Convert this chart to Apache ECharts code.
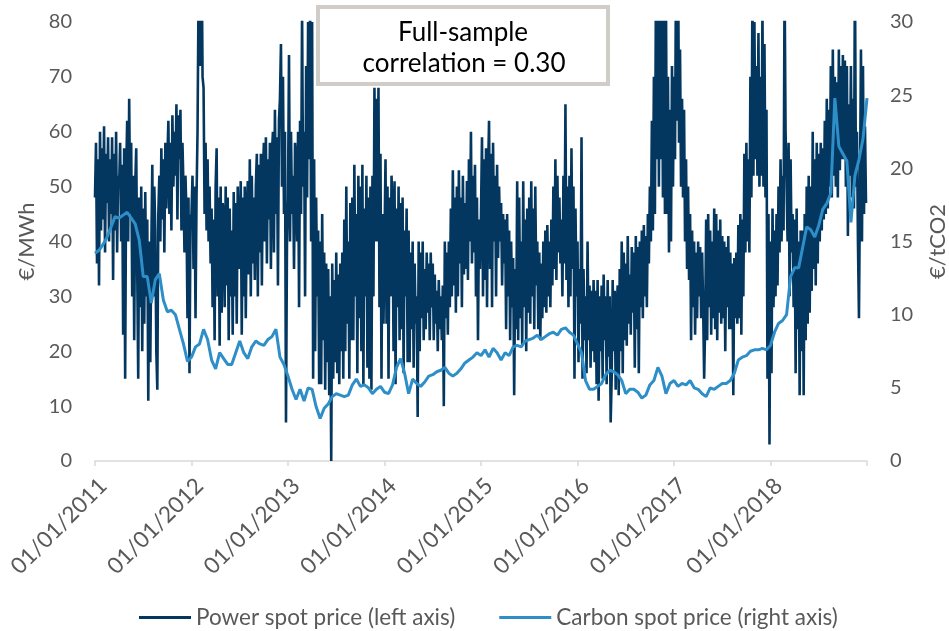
<!DOCTYPE html>
<html><head><meta charset="utf-8">
<script src="https://cdn.jsdelivr.net/npm/echarts@6/dist/echarts.min.js"></script>
<style>html,body{margin:0;padding:0;background:#fff}#chart{width:949px;height:631px}</style>
</head><body><div id="chart"></div>
<script>
// x tick labels (one per year boundary; 2019 boundary unlabeled)
const tickLabels = ['01/01/2011','01/01/2012','01/01/2013','01/01/2014','01/01/2015','01/01/2016','01/01/2017','01/01/2018'];
const seriesNames = ['Power spot price (left axis)', 'Carbon spot price (right axis)'];
const annotationLines = ['Full-sample', 'correlation = 0.30'];

// Power spot price, EUR/MWh: 8 readings per month (Jan..Dec)
const power2011 = [48,58,36,55,32,60,42,57, 44,61,38,56,47,59,40,55, 45,59,33,56,42,60,38,52, 50,58,40,54,23,57,15,52, 62,40,66,45,58,30,52,22, 50,57,35,15,48,28,50,20, 46,25,49,30,44,11,40,18, 38,54,30,50,42,20,13,45, 52,40,57,44,55,38,58,46, 55,62,45,58,42,63,50,60, 52,65,44,63,55,64,42,58, 50,38,52,45,26,48,16,44];
const power2012 = [45,52,35,50,26,48,60,85, 90,72,95,70,68,45,58,42, 55,40,50,36,46,28,44,22, 50,57,30,48,21,50,27,47, 45,28,50,32,48,22,46,30, 42,23,49,30,47,25,50,35, 40,51,23,48,30,50,26,45, 51,34,55,30,52,36,48,33, 50,56,30,54,38,56,32,52, 58,40,59,36,55,44,58,35, 56,60,38,64,45,59,32,62, 66,76,50,70,45,60,7,40];
const power2013 = [48,74,40,60,45,52,35,58, 55,40,60,28,62,45,82,50, 60,30,72,48,80,55,85,40, 80,15,55,20,48,30,42,14, 40,14,45,22,38,13,36,18, 35,12,30,0,36,15,33,18, 38,16,34,14,36,20,38,15, 44,20,50,25,40,15,47,22, 48,22,54,30,45,16,52,26, 50,20,54,14,46,30,52,17, 48,15,50,13,52,30,68,40, 66,40,68,28,56,15,45,25];
const power2014 = [40,55,25,50,15,48,30,52, 45,20,51,14,46,28,50,22, 47,24,48,16,42,30,46,18, 42,18,38,24,40,17,36,25, 30,8,40,20,38,26,40,22, 35,24,38,27,36,22,38,28, 36,22,34,25,31,20,33,24, 30,22,32,10,40,26,38,23, 40,28,46,30,53,32,48,27, 50,30,53,36,48,28,52,34, 47,35,51,33,55,40,60,36, 52,38,54,30,48,22,44,35];
const power2015 = [45,59,30,55,33,57,28,52, 62,35,56,28,58,40,52,30, 54,37,50,40,47,32,45,36, 44,24,45,30,42,22,40,28, 37,12,35,24,51,22,48,26, 40,21,51,28,44,20,46,27, 48,25,51,30,46,24,50,32, 40,24,38,22,36,26,40,28, 42,27,43,30,40,28,44,32, 50,35,55,33,52,38,48,36, 44,30,52,36,65,33,50,28, 52,30,57,35,50,15,46,30];
const power2016 = [40,18,35,25,59,15,35,22, 30,16,40,22,32,17,31,20, 33,18,31,14,33,11,30,20, 32,15,34,22,30,14,33,19, 30,7,15,33,20,31,13,28, 32,12,35,20,40,16,38,22, 36,21,41,25,34,23,39,27, 38,17,41,24,39,16,40,28, 42,26,43,30,41,28,45,36, 50,40,62,42,70,45,85,55, 88,50,95,55,82,48,90,45, 85,45,70,38,64,40,72,50];
const power2017 = [70,55,90,62,95,58,75,50, 66,48,64,40,55,35,50,33, 45,22,42,28,40,23,38,26, 40,30,39,26,38,28,15,25, 44,22,45,28,42,23,40,26, 46,24,45,22,42,27,44,25, 41,26,40,20,39,28,41,24, 38,24,36,12,37,26,38,25, 43,26,45,23,44,30,56,38, 58,40,55,38,70,48,85,52, 80,55,72,52,78,50,70,52, 82,50,76,48,64,15,45,3];
const power2018 = [40,16,46,28,42,30,45,32, 50,38,55,40,52,42,88,60, 60,40,58,30,55,38,45,28, 44,16,46,24,40,12,42,20, 42,12,45,22,50,25,52,27, 50,31,60,35,55,32,58,36, 56,40,58,42,57,44,62,45, 66,46,64,50,72,48,75,52, 70,50,69,48,75,53,72,55, 74,55,73,50,72,41,65,52, 72,48,66,46,90,50,60,40, 26,50,75,40,72,45,61,47];

// Carbon spot price, EUR/tCO2: readings on the 1st and 15th of each month
const carbon2011 = [14.2,14.4, 14.8,15.3, 16.0,16.7, 16.6,16.8, 17.0,16.6, 16.2,15.1, 12.6,12.6, 10.8,12.4, 12.8,11.0, 10.2,10.3, 10.0,9.0, 8.0,6.8];
const carbon2012 = [7.1,7.8, 8.0,9.0, 8.3,6.9, 6.3,7.4, 7.0,6.6, 6.6,7.4, 8.2,7.4, 7.0,7.8, 8.2,8.0, 7.9,8.3, 8.5,9.0, 7.1,6.6];
const carbon2013 = [5.8,4.9, 4.2,4.9, 4.1,5.0, 4.9,3.7, 2.9,3.6, 3.9,4.4, 4.6,4.5, 4.4,4.5, 5.2,5.6, 5.1,5.2, 5.0,4.6, 4.9,5.1];
const carbon2014 = [4.7,4.6, 5.2,6.4, 7.0,6.0, 4.6,5.6, 5.3,5.1, 5.4,5.8, 5.9,6.1, 6.2,6.4, 6.0,5.8, 6.0,6.3, 6.7,6.9, 7.1,7.4];
const carbon2015 = [7.2,7.6, 7.1,7.7, 7.4,6.9, 7.4,7.2, 7.8,7.9, 7.8,8.2, 8.3,8.4, 8.6,8.3, 8.5,8.7, 8.8,8.6, 9.0,9.1, 8.8,8.6];
const carbon2016 = [8.0,7.4, 5.5,4.9, 4.9,5.1, 5.3,5.9, 6.2,6.1, 5.9,5.5, 4.6,4.9, 4.9,4.7, 4.3,4.5, 5.2,5.5, 6.4,5.8, 4.6,5.3];
const carbon2017 = [5.5,5.1, 5.3,5.2, 5.5,5.0, 4.9,4.6, 4.4,5.0, 4.9,5.1, 5.3,5.3, 5.5,6.0, 6.9,7.1, 7.2,7.5, 7.6,7.6, 7.7,7.6];
const carbon2018 = [7.9,8.8, 9.4,9.6, 10.0,12.6, 13.2,13.2, 14.6,16.0, 15.8,15.3, 16.1,17.2, 17.6,18.3, 24.8,21.5, 21.0,20.5, 16.3,19.5, 20.6,22.0, 24.8];

const START_YEAR = 2011, END_YEAR = 2019;
const powerAll = [].concat(power2011, power2012, power2013, power2014, power2015, power2016, power2017, power2018);
const carbonAll = [].concat(carbon2011, carbon2012, carbon2013, carbon2014, carbon2015, carbon2016, carbon2017, carbon2018);
const powerData = powerAll.map((v, i) => [START_YEAR + i / 96, v]);
const carbonData = carbonAll.map((v, i) => [START_YEAR + i / 24, v]);

const FONT = 'Lato, "Open Sans", sans-serif';
const GRAY = '#595959';
const chart = echarts.init(document.getElementById('chart'), null, {renderer: 'canvas'});
chart.setOption({
  animation: false,
  backgroundColor: '#ffffff',
  textStyle: {fontFamily: FONT},
  grid: {left: 95, right: 82, top: 22, bottom: 170, containLabel: false, outerBoundsMode: 'none'},
  xAxis: {
    type: 'value', min: START_YEAR, max: END_YEAR, interval: 1,
    axisLine: {show: true, lineStyle: {color: '#d9d9d9', width: 1.5}},
    axisTick: {show: true, length: 5, lineStyle: {color: '#d9d9d9', width: 1.5}},
    splitLine: {show: false},
    axisLabel: {
      rotate: 45, margin: 13, fontSize: 22.5, color: GRAY, fontFamily: FONT,
      verticalAlign: 'top',
      formatter: v => tickLabels[Math.round(v - START_YEAR)] || ''
    }
  },
  yAxis: [
    {type: 'value', min: 0, max: 80, interval: 10,
     name: '€/MWh', nameLocation: 'middle', nameRotate: 90, nameGap: 50,
     nameTextStyle: {fontSize: 22, color: GRAY, fontFamily: FONT},
     axisLine: {show: false}, axisTick: {show: false}, splitLine: {show: false},
     axisLabel: {fontSize: 20, color: GRAY, margin: 23, fontFamily: FONT}},
    {type: 'value', min: 0, max: 30, interval: 5, position: 'right',
     name: '€/tCO2', nameLocation: 'middle', nameRotate: 90, nameGap: 60,
     nameTextStyle: {fontSize: 22, color: GRAY, fontFamily: FONT},
     axisLine: {show: false}, axisTick: {show: false}, splitLine: {show: false},
     axisLabel: {fontSize: 20, color: GRAY, margin: 23, fontFamily: FONT}}
  ],
  legend: {
    left: 134, top: 601, itemGap: 44, itemWidth: 52, itemHeight: 3, icon: 'rect',
    textStyle: {fontSize: 22.5, color: GRAY, fontFamily: FONT},
    data: seriesNames
  },
  series: [
    {name: seriesNames[0], type: 'line', yAxisIndex: 0, data: powerData, showSymbol: false,
     lineStyle: {color: '#03375f', width: 2.6}, itemStyle: {color: '#03375f'}, clip: true, z: 2},
    {name: seriesNames[1], type: 'line', yAxisIndex: 1, data: carbonData, showSymbol: false,
     lineStyle: {color: '#2e8ec8', width: 3}, itemStyle: {color: '#2e8ec8'}, clip: true, z: 3}
  ],
  graphic: [{
    type: 'group', z: 100,
    children: [
      {type: 'rect', shape: {x: 318, y: 7, width: 290, height: 77},
       style: {fill: '#ffffff', stroke: '#d0cdc9', lineWidth: 4}},
      {type: 'text', x: 463, y: 33,
       style: {text: annotationLines[0], font: '26px ' + FONT, fill: '#000000', align: 'center', verticalAlign: 'middle'}},
      {type: 'text', x: 464, y: 64,
       style: {text: annotationLines[1], font: '26px ' + FONT, fill: '#000000', align: 'center', verticalAlign: 'middle'}}
    ]
  }]
});
</script></body></html>
